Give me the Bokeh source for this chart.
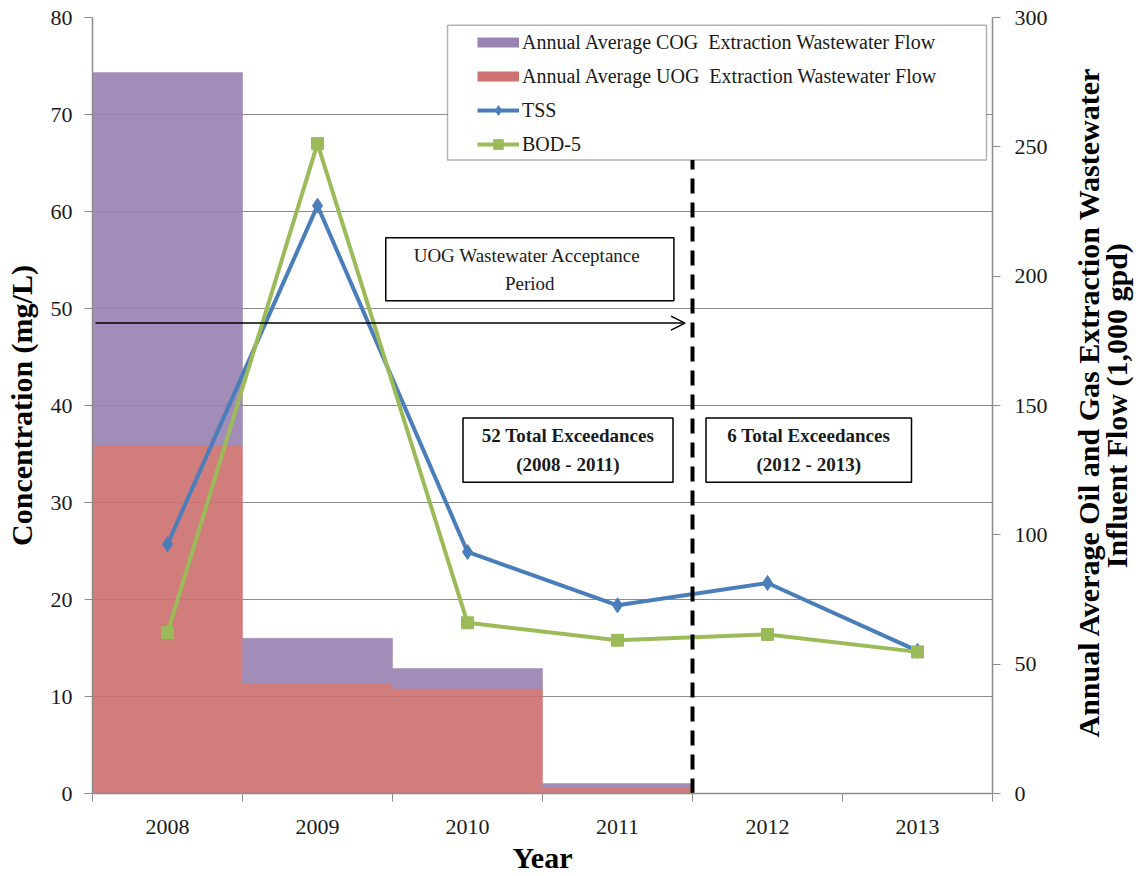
import math
from bokeh.plotting import figure
from bokeh.layouts import row
from bokeh.models import (LinearAxis, Range1d, FixedTicker, Legend, LegendItem,
                          Arrow, OpenHead, BoxAnnotation)
from bokeh.core.properties import value
from bokeh.embed import file_html
from bokeh.resources import INLINE

# ---------------- data ----------------
years = ["2008", "2009", "2010", "2011", "2012", "2013"]
tss = [25.7, 60.6, 24.9, 19.4, 21.7, 14.7]
bod5 = [16.6, 67.0, 17.6, 15.8, 16.4, 14.6]
uog_flow = [134.5, 42.5, 40.6, 2.3, 0, 0]
cog_flow = [144.2, 17.5, 7.7, 1.6, 0, 0]
left_ticks = [0, 10, 20, 30, 40, 50, 60, 70, 80]
right_ticks = [0, 50, 100, 150, 200, 250, 300]
right_title = ["Annual Average Oil and Gas Extraction Wastewater",
               "Influent Flow  (1,000 gpd)"]

FONT = "Liberation Serif"
PURPLE = "#9a83b2"
RED = "#cd7270"
BLUE = "#4a7ebb"
GREEN = "#9bbb59"
GRID = "#8c8c8c"
TXT = "#1a1a1a"

xs = [i + 0.5 for i in range(len(years))]
total_flow = [u + c for u, c in zip(uog_flow, cog_flow)]

p = figure(frame_width=900, frame_height=776,
           x_range=Range1d(0, len(years)), y_range=Range1d(0, 80),
           output_backend="svg", toolbar_location=None,
           min_border_left=92, min_border_right=75,
           min_border_top=17, min_border_bottom=83)
p.outline_line_color = None
p.background_fill_color = "white"
p.extra_y_ranges = {"flow": Range1d(0, 300)}

# ---------------- axes ----------------
xa = p.xaxis[0]
xa.ticker = FixedTicker(ticks=xs, minor_ticks=list(range(len(years) + 1)))
xa.major_label_overrides = {x: y for x, y in zip(xs, years)}
xa.major_tick_out = 0
xa.major_tick_in = 0
xa.minor_tick_out = 8
xa.minor_tick_in = 0
xa.minor_tick_line_color = GRID
xa.axis_line_color = GRID
xa.axis_line_width = 1.5
xa.major_label_text_font = FONT
xa.major_label_text_font_size = "22px"
xa.major_label_text_color = TXT
xa.major_label_standoff = 18
xa.axis_label = "Year"
xa.axis_label_text_font = FONT
xa.axis_label_text_font_size = "30px"
xa.axis_label_text_font_style = "bold"
xa.axis_label_text_color = "black"
xa.axis_label_standoff = 4

ya = p.yaxis[0]
ya.ticker = FixedTicker(ticks=left_ticks)
ya.minor_tick_line_color = None
ya.major_tick_out = 8
ya.major_tick_in = 0
ya.major_tick_line_color = GRID
ya.axis_line_color = GRID
ya.axis_line_width = 1.5
ya.major_label_text_font = FONT
ya.major_label_text_font_size = "22px"
ya.major_label_text_color = TXT
ya.major_label_standoff = 12
ya.axis_label = "Concentration (mg/L)"
ya.axis_label_text_font = FONT
ya.axis_label_text_font_size = "30px"
ya.axis_label_text_font_style = "bold"
ya.axis_label_text_color = "black"
ya.axis_label_standoff = 10

ra = LinearAxis(y_range_name="flow", ticker=FixedTicker(ticks=right_ticks))
ra.minor_tick_line_color = None
ra.major_tick_out = 8
ra.major_tick_in = 0
ra.major_tick_line_color = GRID
ra.axis_line_color = GRID
ra.axis_line_width = 1.5
ra.major_label_text_font = FONT
ra.major_label_text_font_size = "22px"
ra.major_label_text_color = TXT
ra.major_label_standoff = 14
p.add_layout(ra, "right")

p.xgrid.visible = False
p.ygrid.grid_line_color = GRID
p.ygrid.grid_line_width = 1

# ---------------- bars ----------------
p.vbar(x=xs, width=1.0, bottom=0, top=uog_flow, y_range_name="flow",
       fill_color=RED, line_color=RED, line_width=0.5, fill_alpha=0.92, line_alpha=0.92)
p.vbar(x=xs, width=1.0, bottom=uog_flow, top=total_flow, y_range_name="flow",
       fill_color=PURPLE, line_color=PURPLE, line_width=0.5, fill_alpha=0.92, line_alpha=0.92)

# ---------------- lines ----------------
tss_line = p.line(xs, tss, line_color=BLUE, line_width=4)
tss_pts = p.scatter(xs, tss, marker="diamond", size=15, fill_color=BLUE, line_color=BLUE)
bod_line = p.line(xs, bod5, line_color=GREEN, line_width=4)
bod_pts = p.scatter(xs, bod5, marker="square", size=12, fill_color=GREEN, line_color=GREEN)

# ---------------- annotations ----------------
p.segment(x0=[4], y0=[0], x1=[4], y1=[65.3], line_color="black",
          line_width=4, line_dash="15 9")

p.add_layout(Arrow(x_start=0.02, y_start=48.5, x_end=3.95, y_end=48.5,
                   line_color="black", line_width=1.5,
                   end=OpenHead(size=14, line_color="black", line_width=1.5)))

p.quad(left=[1.955, 2.47, 4.09], right=[3.876, 3.87, 5.46],
       top=[57.3, 38.7, 38.7], bottom=[50.8, 32.1, 32.1],
       fill_color="white", line_color="black", line_width=1.5)
p.text(x=[2.915], y=[54.05], text=["UOG Wastewater  Acceptance\nPeriod"],
       text_font=value(FONT), text_font_size="19px", text_color=TXT,
       text_align="center", text_baseline="middle", text_line_height=1.35)
p.text(x=[3.17, 4.775], y=[35.4, 35.4],
       text=["52 Total Exceedances\n(2008 - 2011)", "6 Total Exceedances\n(2012 - 2013)"],
       text_font=value(FONT), text_font_size="19px", text_font_style="bold",
       text_color=TXT, text_align="center", text_baseline="middle",
       text_line_height=1.35)

# legend box
p.add_layout(BoxAnnotation(left=2.367, right=5.96, top=79.2, bottom=65.3,
                           fill_color="white", fill_alpha=1.0,
                           line_color="black", line_width=1.5))

nan = float("nan")
cog_key = p.line(x=[nan, nan], y=[nan, nan], line_color=PURPLE, line_width=10)
uog_key = p.line(x=[nan, nan], y=[nan, nan], line_color=RED, line_width=10)

legend = Legend(items=[
    LegendItem(label="Annual Average COG  Extraction Wastewater Flow", renderers=[cog_key]),
    LegendItem(label="Annual Average UOG  Extraction Wastewater Flow", renderers=[uog_key]),
    LegendItem(label="TSS", renderers=[tss_line, tss_pts]),
    LegendItem(label="BOD-5", renderers=[bod_line, bod_pts]),
], location=(385, 637), orientation="vertical",
    glyph_width=42, glyph_height=24, label_height=24, spacing=10,
    label_standoff=3, padding=0, margin=0,
    border_line_color=None, background_fill_alpha=0,
    label_text_font=FONT, label_text_font_size="20px", label_text_color=TXT)
p.add_layout(legend)

# ---------------- right title panel (text reads bottom-to-top) ----------------
side = figure(width=77, height=876, x_range=Range1d(0, 77), y_range=Range1d(0, 876),
              output_backend="svg", toolbar_location=None,
              x_axis_location=None, y_axis_location=None,
              min_border=0)
side.outline_line_color = None
side.xgrid.visible = False
side.ygrid.visible = False
side.text(x=[21, 49], y=[442, 442], text=right_title, angle=math.pi / 2,
          text_font=value(FONT), text_font_size="30px", text_font_style="bold",
          text_color="black", text_align="center", text_baseline="middle")

layout = row(p, side, spacing=0)
open("out.html", "w").write(file_html(layout, INLINE))
